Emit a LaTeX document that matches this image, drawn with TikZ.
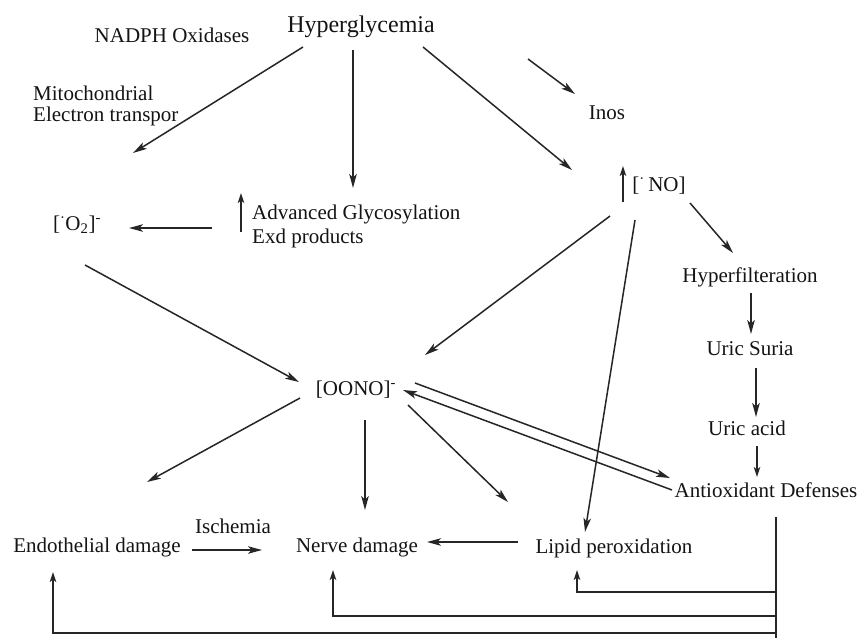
\documentclass[tikz,border=0pt]{standalone}
\usepackage{fontspec}
\setmainfont{Liberation Serif}
\usetikzlibrary{arrows.meta}
\begin{document}
\begin{tikzpicture}[x=1pt,y=-1pt,
  lbl/.style={font=\fontsize{21}{21}\selectfont, inner sep=0pt, anchor=base, text=black!92},
  big/.style={font=\fontsize{24}{24}\selectfont},
  arr/.style={line width=1.5pt, draw=black!85, -{Stealth[length=14pt,width=7.5pt,inset=3.5pt]}},
  sarr/.style={line width=1.5pt, draw=black!85, -{Stealth[length=10pt,width=6.5pt,inset=2.5pt]}},
  ln/.style={line width=1.5pt, draw=black!85}]
\useasboundingbox (0,0) rectangle (861,638);
\fill[white] (0,0) rectangle (861,638);

% nodes
\node[lbl,big] (hyp) at (361,32) {Hyperglycemia};
\node[lbl] (nadph) at (172,42) {NADPH Oxidases};
\node[lbl,anchor=base west] (mito) at (33,100) {Mitochondrial};
\node[lbl,anchor=base west] (mitob) at (33,121) {Electron transpor};
\node[lbl] (inos) at (607,119) {Inos};
\node[lbl] (no) at (659,191) {[\textsuperscript{·}\,NO]};
\node[lbl] (o2) at (77,230) {[\textsuperscript{·}O\textsubscript{2}]\textsuperscript{-}};
\node[lbl,anchor=base west] (age) at (252,219) {Advanced Glycosylation};
\node[lbl,anchor=base west] (ageb) at (252,243) {Exd products};
\node[lbl] (hyperf) at (750,282) {Hyperfilteration};
\node[lbl] (uricsuria) at (750,355) {Uric Suria};
\node[lbl] (uricacid) at (747,435) {Uric acid};
\node[lbl] (antiox) at (766,497) {Antioxidant Defenses};
\node[lbl] (oono) at (356,395) {[OONO]\textsuperscript{-}};
\node[lbl] (endo) at (97,552) {Endothelial damage};
\node[lbl] (isch) at (233,533) {Ischemia};
\node[lbl] (nerve) at (357,552) {Nerve damage};
\node[lbl] (lipid) at (614,553) {Lipid peroxidation};

% connector end points
\coordinate (hypL) at (303,47);   \coordinate (toO2a) at (133,153);
\coordinate (hypM) at (353,50);   \coordinate (toAGE) at (353,188);
\coordinate (hypR) at (423,47);   \coordinate (toNO) at (572,170);
\coordinate (inosS) at (528,59);  \coordinate (inosE) at (575,94);
\coordinate (ageL) at (212,228);  \coordinate (o2R) at (129,228);
\coordinate (ageUpS) at (241,232); \coordinate (ageUpE) at (241,193);
\coordinate (noUpS) at (623,202); \coordinate (noUpE) at (623,166);
\coordinate (o2S) at (85,265);    \coordinate (oonoL) at (299,382);
\coordinate (noA) at (610,216);   \coordinate (oonoTR) at (425,355);
\coordinate (noB) at (635,220);   \coordinate (lipidT) at (585,532);
\coordinate (noC) at (690,203);   \coordinate (hyperfT) at (733,253);
\coordinate (hfB) at (751,293);   \coordinate (usT) at (751,334);
\coordinate (usB) at (756,368);   \coordinate (uaT) at (756,417);
\coordinate (uaB) at (757,446);   \coordinate (adT) at (757,477);
\coordinate (oonoR1) at (415,383); \coordinate (adL1) at (670,478);
\coordinate (adL2) at (672,490);  \coordinate (oonoR2) at (403,390);
\coordinate (oonoBL) at (300,398); \coordinate (endoT) at (147,482);
\coordinate (oonoB) at (365,420); \coordinate (nerveT) at (365,510);
\coordinate (oonoBR) at (408,405); \coordinate (lipidTL) at (508,502);
\coordinate (endoR) at (192,550); \coordinate (nerveL) at (262,550);
\coordinate (lipidL) at (518,542); \coordinate (nerveR) at (427,542);
\coordinate (adB) at (776,517);   \coordinate (busEnd) at (776,638);
\coordinate (j1) at (776,592);    \coordinate (lipidB) at (577,570);
\coordinate (j2) at (776,616);    \coordinate (nerveB) at (333,570);
\coordinate (j3) at (776,633);    \coordinate (endoB) at (53,572);

% connectors
\draw[arr] (hypL) -- (toO2a);
\draw[arr] (hypM) -- (toAGE);
\draw[arr] (hypR) -- (toNO);
\draw[arr] (inosS) -- (inosE);
\draw[arr] (ageL) -- (o2R);
\draw[sarr] (ageUpS) -- (ageUpE);
\draw[sarr] (noUpS) -- (noUpE);
\draw[arr] (o2S) -- (oonoL);
\draw[arr] (noA) -- (oonoTR);
\draw[arr] (noB) -- (lipidT);
\draw[arr] (noC) -- (hyperfT);
\draw[arr] (hfB) -- (usT);
\draw[arr] (usB) -- (uaT);
\draw[sarr] (uaB) -- (adT);
\draw[arr] (oonoR1) -- (adL1);
\draw[arr] (adL2) -- (oonoR2);
\draw[arr] (oonoBL) -- (endoT);
\draw[arr] (oonoB) -- (nerveT);
\draw[arr] (oonoBR) -- (lipidTL);
\draw[arr] (endoR) -- (nerveL);
\draw[arr] (lipidL) -- (nerveR);
\draw[ln] (adB) -- (busEnd);
\draw[sarr] (j1) -| (lipidB);
\draw[sarr] (j2) -| (nerveB);
\draw[sarr] (j3) -| (endoB);
\end{tikzpicture}
\end{document}
